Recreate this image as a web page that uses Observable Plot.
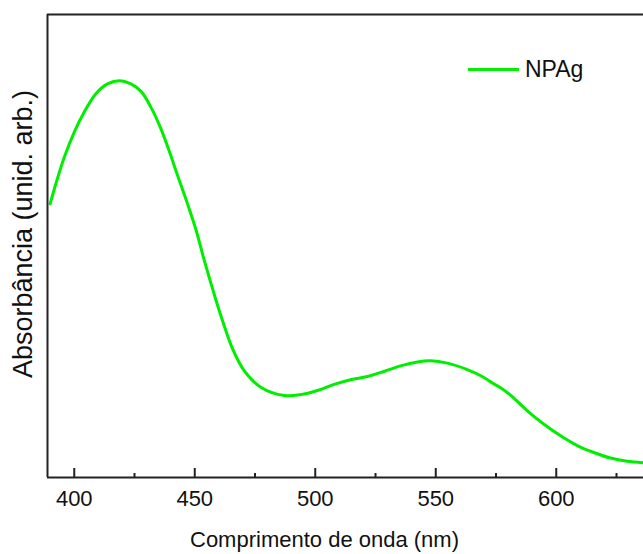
<!DOCTYPE html>
<html>
<head>
<meta charset="utf-8">
<script src="https://cdn.jsdelivr.net/npm/d3@7"></script>
<script src="https://cdn.jsdelivr.net/npm/@observablehq/plot@0.6"></script>
<style>
  html, body { margin: 0; padding: 0; background: #fff; }
  #wrap { position: relative; width: 643px; height: 554px; overflow: hidden; }
  #legend { position: absolute; left: 468px; top: 56px; display: flex; align-items: center;
            font-family: "Liberation Sans", Arial, sans-serif; font-size: 23px; color: #111; }
  #legend .sw { width: 51px; height: 3px; background: #00ee00; margin-right: 6px; }
</style>
</head>
<body>
<div id="wrap"><div id="legend"><span class="sw"></span><span>NPAg</span></div></div>
<script>
// Wavelength (nm)
const wavelength = [390.0, 392.4, 395.9, 400.0, 404.1, 409.0, 413.8, 418.7, 423.5, 427.7,
  431.8, 435.9, 439.4, 442.9, 447.0, 450.5, 453.9, 458.0, 461.5, 465.7,
  470.5, 477.4, 487.1, 494.0, 500.9, 507.8, 514.7, 521.6, 528.5, 535.4,
  542.4, 547.9, 554.8, 563.1, 570.0, 573.5, 576.9, 581.0, 588.0, 594.9, 601.8,
  608.7, 615.6, 622.5, 629.4, 636.2];
// Absorbance (arbitrary units)
const absorbance = [0.591, 0.635, 0.692, 0.746, 0.789, 0.829, 0.850, 0.857, 0.850, 0.834,
  0.800, 0.754, 0.705, 0.652, 0.591, 0.535, 0.470, 0.397, 0.339, 0.278,
  0.231, 0.195, 0.177, 0.179, 0.188, 0.201, 0.211, 0.218, 0.229, 0.241,
  0.2495, 0.252, 0.247, 0.233, 0.216, 0.204, 0.194, 0.178, 0.144, 0.115, 0.090,
  0.069, 0.054, 0.042, 0.035, 0.032];
const seriesName = "NPAg";
const majorTicks = [400, 450, 500, 550, 600];
const minorTicks = [425, 475, 525, 575, 625];
const xDomain = [388.9, 636.2];
const yDomain = [0, 1];
const xLabel = "Comprimento de onda (nm)";
const yLabel = "Absorbância (unid. arb.)";

const data = wavelength.map((w, i) => ({w, a: absorbance[i]}));
const font = "'Liberation Sans', Arial, sans-serif";

const chart = Plot.plot({
  width: 643,
  height: 554,
  marginLeft: 47,
  marginTop: 14,
  marginRight: 0,
  marginBottom: 77,
  style: {fontFamily: font, background: "#fff", color: "#111"},
  x: {domain: xDomain},
  y: {domain: yDomain},
  marks: [
    Plot.line(data, {x: "w", y: "a", stroke: "#00ee00", strokeWidth: 3, curve: "catmull-rom", clip: true}),
    Plot.ruleX([xDomain[0]], {stroke: "#222", strokeWidth: 2}),
    Plot.ruleY([yDomain[0]], {stroke: "#222", strokeWidth: 2}),
    Plot.ruleY([yDomain[1]], {stroke: "#222", strokeWidth: 2}),
    Plot.axisX({ticks: majorTicks, tickSize: -9, strokeWidth: 2, stroke: "#222", tickFormat: () => "", label: null}),
    Plot.axisX({ticks: minorTicks, tickSize: -4, strokeWidth: 2, stroke: "#222", tickFormat: () => "", label: null}),
    Plot.axisX({ticks: majorTicks, tickSize: 0, tickPadding: 13, fontSize: 22, fill: "#111", label: null}),
    Plot.axisY({ticks: [], label: null}),
    Plot.text([xLabel], {text: d => d, frameAnchor: "bottom", dx: -21, dy: 62, lineAnchor: "middle", fontSize: 22, fill: "#111"}),
    Plot.text([yLabel], {text: d => d, frameAnchor: "left", textAnchor: "middle", rotate: -90, dx: -24, dy: -12, lineAnchor: "middle", fontSize: 27, fill: "#111"})
  ]
});
document.getElementById("wrap").prepend(chart);
</script>
</body>
</html>
